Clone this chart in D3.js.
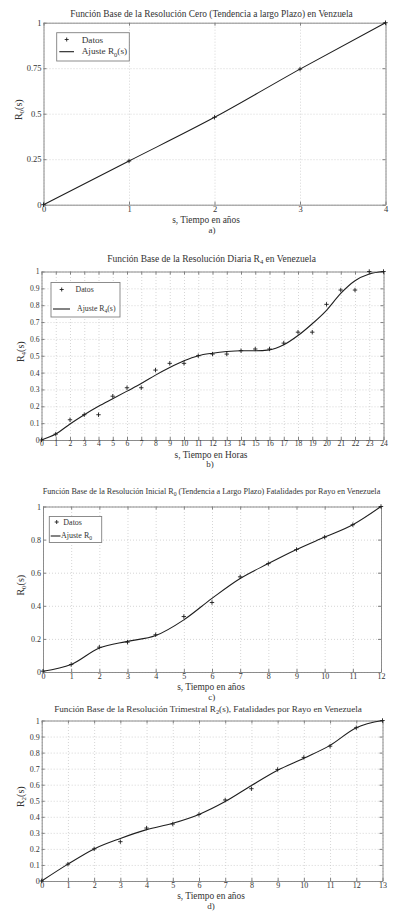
<!DOCTYPE html>
<html>
<head>
<meta charset="utf-8">
<script src="https://cdn.jsdelivr.net/npm/d3@7/dist/d3.min.js"></script>
<style>
body { margin: 0; background: #fff; }
svg text { font-family: "Liberation Serif", "Times New Roman", serif; fill: #333; }
</style>
</head>
<body>
<script>
// a) resolucion cero, tiempo en años
var anosA = [0, 1, 2, 3, 4];
var datosA = [0, 0.24, 0.48, 0.745, 1];
var ajusteA = [0, 0.24, 0.48, 0.745, 1];
var yTicksA = [0, 0.25, 0.5, 0.75, 1];

// b) resolucion diaria, tiempo en horas
var horasB = [0, 1, 2, 3, 4, 5, 6, 7, 8, 9, 10, 11, 12, 13, 14, 15, 16, 17, 18, 19, 20, 21, 22, 23, 24];
var datosB = [0, 0.035, 0.12, 0.15, 0.15, 0.26, 0.31, 0.31, 0.415, 0.455, 0.455, 0.5, 0.51,
              0.51, 0.53, 0.54, 0.54, 0.575, 0.64, 0.64, 0.805, 0.89, 0.89, 1, 1];
var ajusteB = [0, 0.035, 0.095, 0.15, 0.2, 0.245, 0.29, 0.335, 0.385, 0.43, 0.47, 0.5, 0.515,
               0.525, 0.53, 0.53, 0.535, 0.565, 0.62, 0.69, 0.77, 0.87, 0.945, 0.985, 1];
var yTicksB = [0, 0.1, 0.2, 0.3, 0.4, 0.5, 0.6, 0.7, 0.8, 0.9, 1];

// c) resolucion inicial, tiempo en años
var anosC = [0, 1, 2, 3, 4, 5, 6, 7, 8, 9, 10, 11, 12];
var datosC = [0.005, 0.045, 0.15, 0.18, 0.225, 0.335, 0.42, 0.575, 0.655, 0.74, 0.815, 0.89, 1];
var ajusteC = [0.005, 0.045, 0.145, 0.185, 0.22, 0.315, 0.445, 0.565, 0.655, 0.74, 0.815, 0.89, 1];
var yTicksC = [0, 0.2, 0.4, 0.6, 0.8, 1];

// d) resolucion trimestral, tiempo en años
var anosD = [0, 1, 2, 3, 4, 5, 6, 7, 8, 9, 10, 11, 12, 13];
var datosD = [0, 0.105, 0.2, 0.245, 0.33, 0.355, 0.415, 0.505, 0.575, 0.695, 0.77, 0.84, 0.955, 1];
var ajusteD = [0, 0.105, 0.2, 0.265, 0.32, 0.36, 0.415, 0.495, 0.595, 0.69, 0.765, 0.845, 0.955, 1];
var yTicksD = [0, 0.1, 0.2, 0.3, 0.4, 0.5, 0.6, 0.7, 0.8, 0.9, 1];

var serif = "'Liberation Serif', 'Times New Roman', serif";

var svg = d3.select("body").append("svg")
	.attr("width", 398)
	.attr("height", 923)
	.attr("font-family", serif);

// text with _{sub} parts
function rich(t, str)
{
	var back = false;
	str.split(/(_\{[^}]*\})/).forEach(function(p){
		if (!p) return;
		if (p[0] === "_") {
			t.append("tspan").attr("font-size", "70%").attr("dy", "0.35em").text(p.slice(2, -1));
			back = true;
		} else {
			var s = t.append("tspan").text(p);
			if (back) { s.attr("dy", "-0.245em"); back = false; }
		}
	});
	return t;
}

// scale font so the text is w wide
function fitWidth(t, w)
{
	var fs = parseFloat(t.attr("font-size"));
	var len = t.node().getComputedTextLength();
	t.attr("font-size", (fs * w / len).toFixed(2));
}

function drawPanel(p)
{
	var x = d3.scaleLinear().domain([p.xs[0], p.xs[p.xs.length - 1]]).range([p.left, p.right]);
	var y = d3.scaleLinear().domain([0, 1]).range([p.bottom, p.top]);
	var g = svg.append("g");
	var h = p.bottom - p.top, w = p.right - p.left;
	var fmt = d3.format("");

	// dotted grid
	g.append("g")
		.attr("transform", "translate(0," + p.bottom + ")")
		.call(d3.axisBottom(x).tickValues(p.xs).tickSize(-h).tickFormat(""))
		.call(function(a){ a.select(".domain").remove(); })
		.selectAll("line").attr("stroke", "#c4c4c4").attr("stroke-dasharray", "1,2").attr("stroke-width", 0.7);
	g.append("g")
		.attr("transform", "translate(" + p.left + ",0)")
		.call(d3.axisLeft(y).tickValues(p.yTicks).tickSize(-w).tickFormat(""))
		.call(function(a){ a.select(".domain").remove(); })
		.selectAll("line").attr("stroke", "#c4c4c4").attr("stroke-dasharray", "1,2").attr("stroke-width", 0.7);

	// box with inward ticks
	var axes = [
		[d3.axisBottom(x).tickValues(p.xs).tickSize(-3).tickSizeOuter(0).tickPadding(1).tickFormat(fmt), "translate(0," + p.bottom + ")"],
		[d3.axisTop(x).tickValues(p.xs).tickSize(-3).tickSizeOuter(0).tickFormat(""), "translate(0," + p.top + ")"],
		[d3.axisLeft(y).tickValues(p.yTicks).tickSize(-3).tickSizeOuter(0).tickPadding(2).tickFormat(fmt), "translate(" + p.left + ",0)"],
		[d3.axisRight(y).tickValues(p.yTicks).tickSize(-3).tickSizeOuter(0).tickFormat(""), "translate(" + p.right + ",0)"]
	];
	axes.forEach(function(a){
		g.append("g")
			.attr("transform", a[1])
			.attr("color", "#808080")
			.call(a[0])
			.attr("font-size", p.tickFont)
			.attr("font-family", serif)
			.call(function(s){ s.select(".domain").attr("stroke-width", 0.9); });
	});

	// fitted curve
	g.append("path")
		.datum(p.xs.map(function(v, i){ return [v, p.fit[i]]; }))
		.attr("fill", "none")
		.attr("stroke", "#1e1e1e")
		.attr("stroke-width", 1.1)
		.attr("d", d3.line().curve(d3.curveMonotoneX)
			.x(function(d){ return x(d[0]); })
			.y(function(d){ return y(d[1]); }));

	// data crosses
	g.selectAll(".dato")
		.data(p.xs.map(function(v, i){ return [v, p.datos[i]]; }))
		.enter().append("path")
		.attr("transform", function(d){ return "translate(" + x(d[0]) + "," + y(d[1]) + ")"; })
		.attr("d", "M-2.2,0H2.2M0,-2.2V2.2")
		.attr("stroke", "#1e1e1e")
		.attr("stroke-width", 0.9);

	// title
	var t = rich(g.append("text")
		.attr("x", p.titleX).attr("y", p.titleY).attr("dy", "0.35em")
		.attr("text-anchor", "middle").attr("font-size", 9), p.title);
	fitWidth(t, p.titleW);

	// axis labels
	rich(g.append("text")
		.attr("x", p.xlabX).attr("y", p.xlabY).attr("dy", "0.35em")
		.attr("text-anchor", "middle").attr("font-size", 9.4), p.xlab);
	rich(g.append("text")
		.attr("transform", "translate(" + p.ylabX + "," + ((p.top + p.bottom) / 2 - 4) + ") rotate(-90)")
		.attr("dy", "0.35em")
		.attr("text-anchor", "middle").attr("font-size", 10), p.ylab);

	// panel tag
	g.append("text")
		.attr("x", p.tagX).attr("y", p.tagY).attr("dy", "0.35em")
		.attr("text-anchor", "middle").attr("font-size", 9).text(p.tag);

	// legend
	if (p.legend) {
		var L = p.legend;
		g.append("rect")
			.attr("x", L.x).attr("y", L.y).attr("width", L.w).attr("height", L.h)
			.attr("fill", "#fff").attr("stroke", "#808080").attr("stroke-width", 0.9);
		g.append("path")
			.attr("transform", "translate(" + L.mx + "," + L.r1 + ")")
			.attr("d", "M-2,0H2M0,-2V2")
			.attr("stroke", "#1e1e1e").attr("stroke-width", 0.9);
		g.append("line")
			.attr("x1", L.l1).attr("x2", L.l2).attr("y1", L.r2).attr("y2", L.r2)
			.attr("stroke", "#1e1e1e").attr("stroke-width", 1.1);
		g.append("text").attr("x", L.tx1).attr("y", L.r1).attr("dy", "0.35em")
			.attr("font-size", L.fs).text(L.t1);
		rich(g.append("text").attr("x", L.tx2).attr("y", L.r2).attr("dy", "0.3em")
			.attr("font-size", L.fs), L.t2);
	}
}

drawPanel({
	xs: anosA, datos: datosA, fit: ajusteA, yTicks: yTicksA,
	left: 43.5, right: 385.5, top: 22.7, bottom: 204.7, tickFont: 8.5,
	title: "Función Base de la Resolución Cero (Tendencia a largo Plazo) en Venzuela",
	titleX: 211.5, titleY: 14, titleW: 283,
	xlab: "s, Tiempo en años", xlabX: 206, xlabY: 220,
	ylab: "R_{0}(s)", ylabX: 18,
	tag: "a)", tagX: 212, tagY: 230,
	legend: { x: 56.7, y: 32.7, w: 72.6, h: 28.3, mx: 66.7, r1: 39.5, r2: 51.7,
		l1: 59.3, l2: 74, tx1: 81.7, tx2: 81.7, fs: 9.2, t1: "Datos", t2: "Ajuste R_{0}(s)" }
});

drawPanel({
	xs: horasB, datos: datosB, fit: ajusteB, yTicks: yTicksB,
	left: 41.5, right: 383.5, top: 271.5, bottom: 440, tickFont: 7.6,
	title: "Función Base de la Resolución Diaria R_{4} en Venezuela",
	titleX: 211.5, titleY: 258.5, titleW: 209,
	xlab: "s, Tiempo en Horas", xlabX: 211, xlabY: 454.5,
	ylab: "R_{4}(s)", ylabX: 20,
	tag: "b)", tagX: 210, tagY: 464,
	legend: { x: 51, y: 282.5, w: 69, h: 34.5, mx: 61.7, r1: 289.5, r2: 309,
		l1: 53, l2: 70, tx1: 75.5, tx2: 77, fs: 7.8, t1: "Datos", t2: "Ajuste R_{4}(s)" }
});

drawPanel({
	xs: anosC, datos: datosC, fit: ajusteC, yTicks: yTicksC,
	left: 43, right: 381, top: 506.5, bottom: 672, tickFont: 8,
	title: "Función Base de la Resolución Inicial R_{0} (Tendencia a Largo Plazo) Fatalidades por Rayo en Venezuela",
	titleX: 211.5, titleY: 491, titleW: 338,
	xlab: "s, Tiempo en años", xlabX: 211, xlabY: 687,
	ylab: "R_{0}(s)", ylabX: 20,
	tag: "c)", tagX: 211.7, tagY: 696.5,
	legend: { x: 49.3, y: 516.5, w: 52.4, h: 26, mx: 56.7, r1: 522, r2: 536,
		l1: 50.7, l2: 60.5, tx1: 63.3, tx2: 61, fs: 8, t1: "Datos", t2: "Ajuste R_{0}" }
});

drawPanel({
	xs: anosD, datos: datosD, fit: ajusteD, yTicks: yTicksD,
	left: 41.7, right: 382.5, top: 720.5, bottom: 881, tickFont: 8,
	title: "Función Base de la Resolución Trimestral  R_{2}(s), Fatalidades por Rayo en Venezuela",
	titleX: 208, titleY: 708.3, titleW: 308,
	xlab: "s, Tiempo en años", xlabX: 211, xlabY: 896,
	ylab: "R_{2}(s)", ylabX: 20,
	tag: "d)", tagX: 211, tagY: 906
});
</script>
</body>
</html>
